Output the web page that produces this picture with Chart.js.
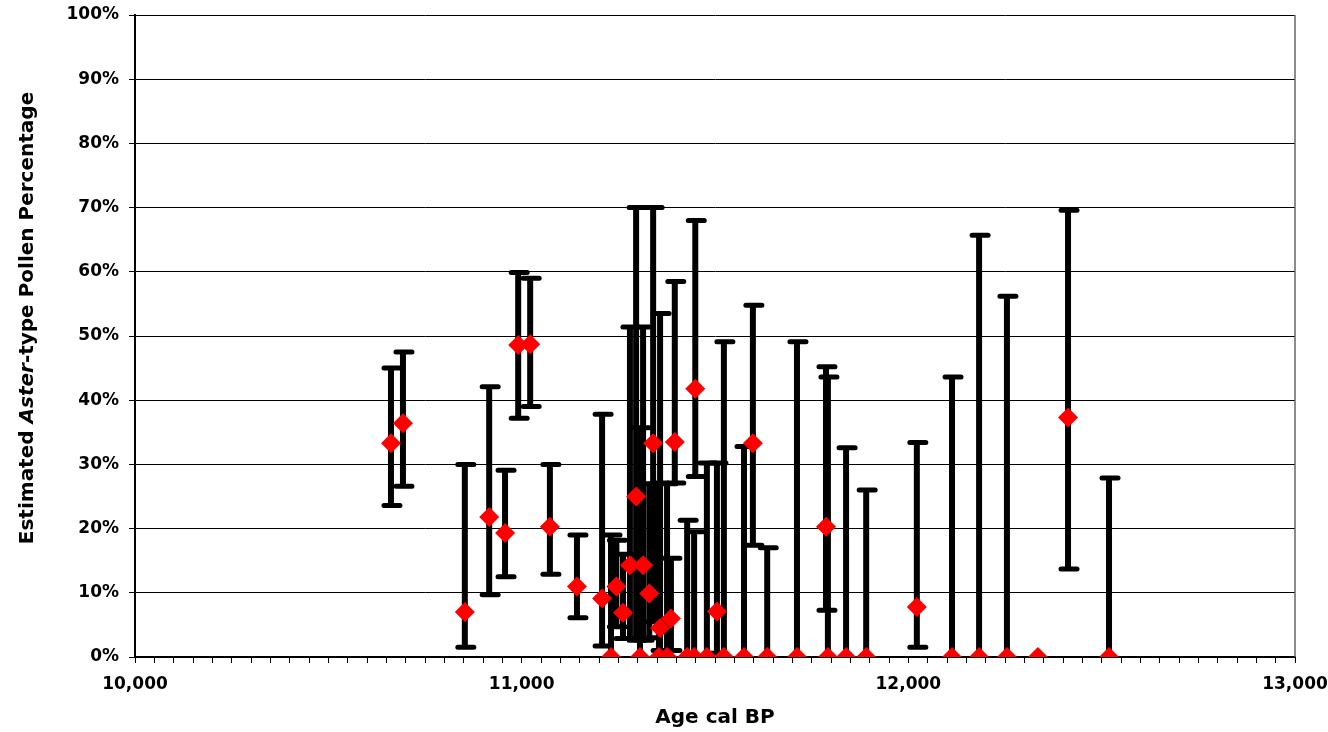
<!DOCTYPE html>
<html>
<head>
<meta charset="utf-8">
<script src="https://cdn.jsdelivr.net/npm/chart.js@4.4.0/dist/chart.umd.min.js"></script>
<style>
  html, body { margin: 0; padding: 0; background: #fff; }
  #wrap { width: 1328px; height: 732px; position: relative; }
</style>
</head>
<body>
<div id="wrap"><canvas id="c" width="1328" height="732"></canvas></div>
<script>
// ---- Data ----
const ages = [10662, 10693, 10853, 10916, 10957, 10991, 11022, 11073, 11143, 11208,
  11231, 11245, 11262, 11280, 11296, 11306, 11314, 11330, 11340, 11355,
  11358, 11376, 11386, 11396, 11428, 11446, 11449, 11479, 11505, 11523,
  11575, 11598, 11635, 11712, 11787, 11792, 11839, 11891, 12022, 12113,
  12183, 12255, 12335, 12413, 12519];
const percents = [33.3, 36.4, 7.0, 21.8, 19.3, 48.6, 48.7, 20.3, 11.0, 9.1,
  0, 11.0, 6.9, 14.3, 25.0, 0, 14.3, 9.9, 33.3, 0,
  4.5, 0, 6.0, 33.5, 0, 0, 41.8, 0, 7.1, 0,
  0, 33.3, 0, 0, 20.3, 0, 0, 0, 7.8, 0,
  0, 0, 0, 37.3, 0];
const lowerBounds = [23.6, 26.6, 1.5, 9.7, 12.5, 37.2, 39.0, 12.9, 6.1, 1.7,
  0, 4.7, 2.9, 2.9, 2.6, 0, 2.6, 3.0, 5.5, 0,
  1.0, 0, 1.0, 27.1, 0, 0, 28.1, 0, 0.6, 0,
  0, 17.4, 0, 0, 7.3, 0, 0, 0, 1.5, 0,
  0, 0, 0, 13.7, 0];
const upperBounds = [45.0, 47.5, 30.0, 42.1, 29.1, 59.9, 59.0, 30.0, 19.0, 37.8,
  19.0, 18.2, 16.0, 51.4, 70.0, 35.7, 51.4, 27.0, 70.0, 27.1,
  53.5, 27.0, 15.4, 58.5, 21.3, 19.5, 68.0, 30.2, 30.2, 49.1,
  32.8, 54.8, 17.0, 49.1, 45.2, 43.6, 32.6, 26.0, 33.4, 43.6,
  65.7, 56.2, 0, 69.6, 27.9];

const xTitle = 'Age cal BP';
const yTitleParts = [['Estimated ', false], ['Aster', true], ['-type Pollen Percentage', false]];
const xMin = 10000, xMax = 13000, xStep = 50;
const yMin = 0, yMax = 100, yStep = 10;

const points = ages.map((a, i) => ({ x: a, y: percents[i] }));
const FONT = "'DejaVu Sans', sans-serif";

const errorBars = {
  id: 'errorBars',
  beforeDatasetsDraw(chart) {
    const { ctx, scales: { x, y } } = chart;
    ctx.save();
    ctx.strokeStyle = '#000';
    for (let i = 0; i < ages.length; i++) {
      const px = x.getPixelForValue(ages[i]);
      const lo = y.getPixelForValue(lowerBounds[i]);
      const hi = y.getPixelForValue(upperBounds[i]);
      if (Math.abs(lo - hi) < 0.5) continue;
      ctx.lineCap = 'butt';
      ctx.lineWidth = 6;
      ctx.beginPath();
      ctx.moveTo(px, lo);
      ctx.lineTo(px, hi);
      ctx.stroke();
      ctx.lineCap = 'round';
      ctx.lineWidth = 5;
      ctx.beginPath();
      ctx.moveTo(px - 7, hi); ctx.lineTo(px + 9, hi);
      if (lowerBounds[i] > 0) { ctx.moveTo(px - 7, lo); ctx.lineTo(px + 9, lo); }
      ctx.stroke();
    }
    ctx.restore();
  },
  afterDraw(chart) {
    const { ctx, chartArea } = chart;
    ctx.save();
    // right border of plot area
    ctx.strokeStyle = '#666';
    ctx.lineWidth = 1.5;
    ctx.beginPath();
    ctx.moveTo(chartArea.right, chartArea.top);
    ctx.lineTo(chartArea.right, chartArea.bottom);
    ctx.stroke();
    // y-axis title with italic "Aster"
    const fs = 20;
    const fontFor = (it) => (it ? 'italic ' : '') + 'bold ' + fs + 'px ' + FONT;
    let total = 0;
    yTitleParts.forEach(([t, it]) => { ctx.font = fontFor(it); total += ctx.measureText(t).width; });
    ctx.translate(28, 318);
    ctx.rotate(-Math.PI / 2);
    ctx.fillStyle = '#000';
    ctx.textBaseline = 'middle';
    ctx.textAlign = 'left';
    let cx = -total / 2;
    yTitleParts.forEach(([t, it]) => {
      ctx.font = fontFor(it);
      ctx.fillText(t, cx, 0);
      cx += ctx.measureText(t).width;
    });
    ctx.restore();
  }
};

new Chart(document.getElementById('c'), {
  type: 'scatter',
  data: {
    datasets: [{
      data: points,
      pointStyle: 'rectRot',
      pointRadius: 10,
      pointHoverRadius: 10,
      backgroundColor: '#ff0000',
      borderColor: '#ff0000',
      borderWidth: 0
    }]
  },
  options: {
    responsive: false,
    animation: false,
    events: [],
    layout: { padding: { left: 0, right: 33, top: 15, bottom: 0 } },
    plugins: { legend: { display: false }, tooltip: { enabled: false } },
    scales: {
      x: {
        type: 'linear',
        min: xMin, max: xMax,
        afterFit(s) { s.height = 75; s.paddingLeft = 0; s.paddingRight = 0; },
        afterBuildTicks(s) {
          const t = [];
          for (let v = xMin; v <= xMax; v += xStep) t.push({ value: v });
          s.ticks = t;
        },
        ticks: {
          autoSkip: false, maxRotation: 0, padding: 11,
          color: '#000',
          font: { family: FONT, size: 17, weight: 'bold' },
          callback: (v) => (v % 1000 === 0 ? v.toLocaleString('en-US') : '')
        },
        grid: { drawOnChartArea: false, drawTicks: true, tickLength: 6, color: '#000', lineWidth: 1 },
        border: { display: true, color: '#000', width: 2 },
        title: {
          display: true, text: xTitle, color: '#000',
          font: { family: FONT, size: 20, weight: 'bold' },
          padding: { top: 0, bottom: 2 }
        }
      },
      y: {
        type: 'linear',
        min: yMin, max: yMax,
        afterFit(s) { s.width = 135; s.paddingTop = 0; s.paddingBottom = 0; },
        ticks: {
          stepSize: yStep, padding: 10, color: '#000',
          font: { family: FONT, size: 17, weight: 'bold' },
          callback: (v) => v + '%'
        },
        grid: { color: '#000', lineWidth: 1, tickLength: 6, drawTicks: true },
        border: { display: true, color: '#000', width: 2 }
      }
    }
  },
  plugins: [errorBars]
});
</script>
</body>
</html>
